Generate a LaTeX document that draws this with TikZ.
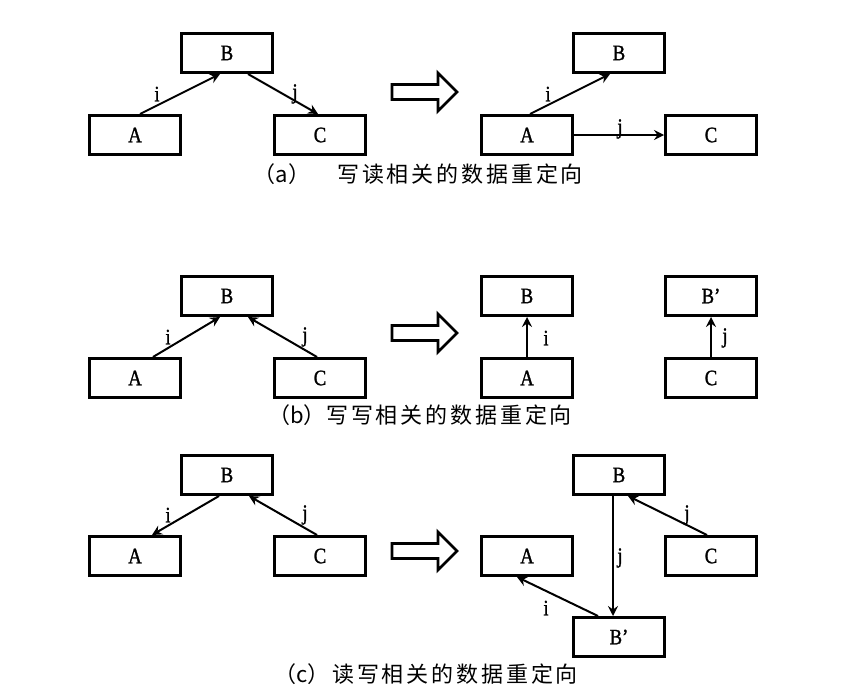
\documentclass[tikz,border=0pt]{standalone}
\usepackage{fontspec}
\setmainfont{Liberation Serif}
\newfontfamily\boxfont{Liberation Serif}[FakeStretch=0.85,FakeBold=1.2]
\newfontfamily\cjk{Noto Sans CJK SC}
\newfontfamily\cjkls{Noto Sans CJK SC}[LetterSpace=13]
\usetikzlibrary{arrows.meta}
\begin{document}
\begin{tikzpicture}[x=1pt,y=-1pt,
  box/.style={draw, line width=3pt, minimum width=91pt, minimum height=39pt, inner sep=0pt,
    font=\boxfont\fontsize{22}{22}\selectfont},
  lab/.style={font=\boxfont\fontsize{22}{22}\selectfont, inner sep=0pt},
  arr/.style={line width=2pt, -{Stealth[length=10pt,width=10pt,inset=3.5pt]}},
  bigarr/.style={draw, line width=2.8pt, line join=miter},
  captext/.style={font=\cjkls\fontsize{22}{22}\selectfont, anchor=west, inner sep=0pt},
  caplab/.style={font=\cjk\fontsize{22}{22}\selectfont, inner sep=0pt},
  hollow/.pic={\draw[bigarr] (0,-7.5) -- (46,-7.5) -- (46,-19) -- (65,0) -- (46,19) -- (46,7.5) -- (0,7.5) -- cycle;}]
\useasboundingbox (0,0) rectangle (851,696);

% ---------- (a) ----------
\node[box] (aA) at (135,135) {A};
\node[box] (aB) at (227,53) {B};
\node[box] (aC) at (320,135) {C};
\draw[arr] ([xshift=5pt]aA.north) -- ([xshift=-7pt]aB.south);
\draw[arr] ([xshift=21pt]aB.south) -- ([xshift=-2pt]aC.north);
\node[lab] (ai) at (157,94) {i};
\node[lab] (aj) at (295,94) {j};
\pic at (392,92) {hollow};
\node[box] (aA2) at (527,135) {A};
\node[box] (aB2) at (619,53) {B};
\node[box] (aC2) at (711,135) {C};
\draw[arr] ([xshift=3pt]aA2.north) -- ([xshift=-9pt]aB2.south);
\draw[arr] (aA2.east) -- (aC2.west);
\node[lab] (ai2) at (548,94) {i};
\node[lab] (aj2) at (620,129) {j};
\node[caplab] (capal) at (282,174) {（a）};
\node[captext] (capa) at (337,174) {写读相关的数据重定向};

% ---------- (b) ----------
\node[box] (bA) at (135,378) {A};
\node[box] (bB) at (227,296) {B};
\node[box] (bC) at (320,378) {C};
\draw[arr] ([xshift=18pt]bA.north) -- ([xshift=-7pt]bB.south);
\draw[arr] ([xshift=-3pt]bC.north) -- ([xshift=21pt]bB.south);
\node[lab] (bi) at (168,337) {i};
\node[lab] (bj) at (305,337) {j};
\pic at (392,333) {hollow};
\node[box] (bB2) at (527,296) {B};
\node[box] (bA2) at (527,378) {A};
\node[box] (bBp) at (711,296) {B’};
\node[box] (bC2) at (711,378) {C};
\draw[arr] (bA2.north) -- (bB2.south);
\draw[arr] (bC2.north) -- (bBp.south);
\node[lab] (bi2) at (546,338) {i};
\node[lab] (bj2) at (725,338) {j};
\node[caplab] (capbl) at (297,415) {（b）};
\node[captext] (capb) at (326,415) {写写相关的数据重定向};

% ---------- (c) ----------
\node[box] (cA) at (135,556) {A};
\node[box] (cB) at (227,475) {B};
\node[box] (cC) at (320,556) {C};
\draw[arr] ([xshift=-8pt]cB.south) -- ([xshift=17pt]cA.north);
\draw[arr] ([xshift=-3pt]cC.north) -- ([xshift=22pt]cB.south);
\node[lab] (ci) at (168,515) {i};
\node[lab] (cj) at (305,515) {j};
\pic at (392,551) {hollow};
\node[box] (cB2) at (619,475) {B};
\node[box] (cA2) at (527,556) {A};
\node[box] (cC2) at (711,556) {C};
\node[box] (cBp) at (619,637) {B’};
\draw[arr] ([xshift=-6pt]cB2.south) -- ([xshift=-6pt]cBp.north);
\draw[arr] ([xshift=-4pt]cC2.north) -- ([xshift=9pt]cB2.south);
\draw[arr] ([xshift=-21pt]cBp.north) -- ([xshift=-10pt]cA2.south);
\node[lab] (cj2) at (620,558) {j};
\node[lab] (cj3) at (687,515) {j};
\node[lab] (ci2) at (546,608) {i};
\node[caplab] (capcl) at (302,674) {（c）};
\node[captext] (capc) at (332,674) {读写相关的数据重定向};
\end{tikzpicture}
\end{document}
